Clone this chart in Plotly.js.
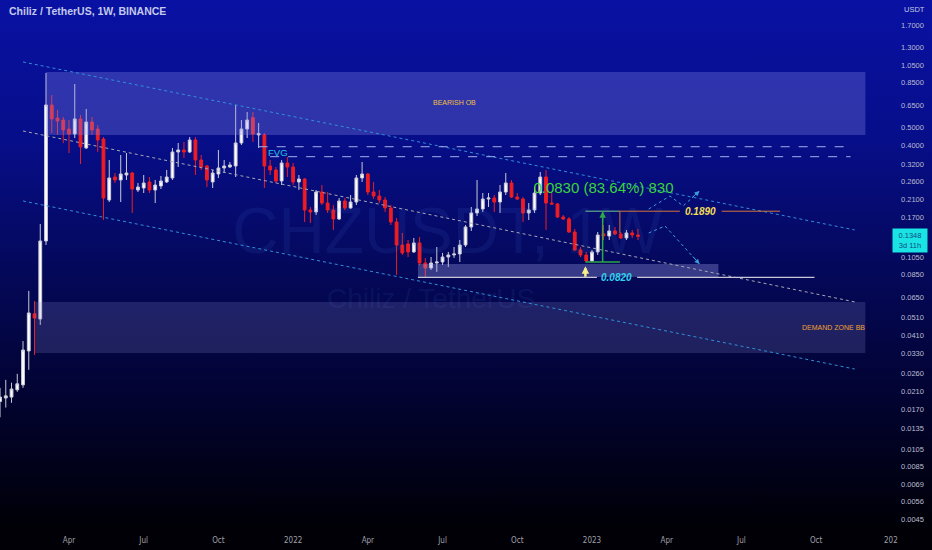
<!DOCTYPE html>
<html><head><meta charset="utf-8">
<script src="https://cdn.plot.ly/plotly-3.0.1.min.js"></script>
<style>
html,body{margin:0;padding:0;background:#000;}
#chart{width:932px;height:550px;background:linear-gradient(180deg,#0911a3 0%,#070e8a 25%,#040858 50%,#020331 72%,#000006 96%);}
</style></head><body><div id="chart"></div>
<script>
// Weekly candles, first week starting 2021-01-11
const firstWeek = '2021-01-11';
const openP = [0.0186,0.0194,0.0196,0.0214,0.0227,0.0341,0.0532,0.0500,0.1275,0.651,
0.557,0.544,0.488,0.460,0.551,0.389,0.531,0.488,0.433,0.2084,
0.2746,0.265,0.2813,0.2882,0.235,0.2407,0.2587,0.235,0.2465,0.2587,
0.2714,0.3707,0.3797,0.3707,0.428,0.3368,0.3134,0.2587,0.2847,0.306,
0.3097,0.3134,0.4129,0.4884,0.56,0.455,0.455,0.3134,0.2987,0.2618,
0.3249,0.3097,0.2587,0.2681,0.1849,0.1805,0.2294,0.201,0.1849,0.166,
0.2059,0.1894,0.2035,0.2714,0.2847,0.2294,0.2187,0.2084,0.1894,0.1601,
0.1215,0.123,0.1118,0.1245,0.0979,0.0922,0.0979,0.0991,0.1052,0.1078,
0.1091,0.1215,0.1508,0.1784,0.1871,0.2109,0.2135,0.2035,0.2294,0.2556,
0.216,0.2109,0.1784,0.1849,0.2267,0.2746,0.201,0.1987,0.17,0.166,
0.142,0.1145,0.1078,0.1003,0.1118,0.139,0.1354,0.1438,0.1387,0.1322,
0.1404,0.137];
const highP = [0.0219,0.0241,0.0233,0.0259,0.0384,0.0701,0.0621,0.1563,0.956,0.734,
0.613,0.564,0.544,0.838,0.578,0.621,0.564,0.512,0.444,0.3368,
0.2882,0.3576,0.3663,0.2916,0.2556,0.2813,0.2746,0.265,0.2779,0.2987,
0.3889,0.4129,0.4179,0.4437,0.4437,0.3576,0.3172,0.2987,0.3797,0.3368,
0.3288,0.6513,0.5441,0.5989,0.5989,0.525,0.4656,0.3368,0.3097,0.3368,
0.3491,0.3249,0.2813,0.2714,0.1916,0.235,0.2495,0.2294,0.1963,0.2135,
0.2135,0.2213,0.2813,0.3288,0.2882,0.2587,0.235,0.216,0.1963,0.168,
0.1404,0.129,0.1322,0.1338,0.104,0.1052,0.1186,0.1105,0.1118,0.1186,
0.129,0.1545,0.1916,0.265,0.2267,0.2267,0.2213,0.2495,0.2882,0.265,
0.2267,0.216,0.201,0.2436,0.2916,0.2987,0.2267,0.201,0.1741,0.17,
0.1473,0.1186,0.1118,0.1145,0.142,0.1545,0.1545,0.1508,0.142,0.1455,
0.1455,0.1473];
const lowP = [0.0154,0.0173,0.0183,0.0209,0.0219,0.0272,0.0325,0.0466,0.1215,0.466,
0.455,0.413,0.366,0.438,0.321,0.384,0.455,0.371,0.164,0.2035,
0.2556,0.2035,0.265,0.1784,0.2294,0.2267,0.2267,0.201,0.2378,0.2556,
0.265,0.3097,0.345,0.3663,0.2813,0.2987,0.2436,0.2407,0.2714,0.2882,
0.306,0.2746,0.4031,0.4384,0.4179,0.389,0.2407,0.2813,0.2556,0.2495,
0.2746,0.2495,0.235,0.1601,0.1582,0.1741,0.1963,0.1784,0.1455,0.164,
0.1849,0.188,0.1963,0.2587,0.2213,0.2109,0.201,0.1805,0.1545,0.0848,
0.1078,0.1052,0.1105,0.0956,0.0828,0.0901,0.088,0.0956,0.0933,0.104,
0.0991,0.1186,0.1438,0.172,0.1805,0.1916,0.1805,0.1784,0.2213,0.2135,
0.2084,0.1601,0.164,0.1784,0.2213,0.1455,0.1963,0.168,0.164,0.1404,
0.1131,0.1052,0.0992,0.0992,0.1078,0.129,0.129,0.137,0.1306,0.129,
0.1322,0.129];
const closeP = [0.0196,0.0199,0.0216,0.0230,0.0345,0.0538,0.0506,0.1275,0.6513,0.551,
0.538,0.483,0.460,0.551,0.394,0.531,0.483,0.428,0.2135,0.2714,
0.265,0.2847,0.2882,0.2378,0.2436,0.2556,0.235,0.2495,0.2618,0.2746,
0.3707,0.3797,0.3707,0.428,0.3368,0.3097,0.265,0.2882,0.306,0.3134,
0.3172,0.4129,0.4884,0.5441,0.46,0.462,0.3134,0.2987,0.2618,0.3249,
0.3097,0.2587,0.2681,0.1849,0.1805,0.2294,0.201,0.1849,0.166,0.2059,
0.1894,0.2035,0.2714,0.2847,0.2294,0.2187,0.2084,0.1894,0.1601,0.1215,
0.1105,0.1118,0.1245,0.0979,0.0922,0.0979,0.0991,0.1052,0.1078,0.1091,
0.1215,0.1508,0.1784,0.1871,0.2109,0.2135,0.2035,0.2294,0.2556,0.216,
0.2109,0.1784,0.1849,0.2267,0.2746,0.201,0.1987,0.17,0.166,0.142,
0.1145,0.1078,0.1003,0.1118,0.137,0.1354,0.1438,0.1387,0.1322,0.1404,
0.137,0.1348];

// Drawings (date, price)
const channelX = ['2021-02-08','2023-11-18'];
const channelTop = [1.091, 0.1455];
const channelMid = [0.4769, 0.0614];
const channelBot = [0.2059, 0.02745];
const bearishOBX = ['2021-03-08','2023-12-01'];
const bearishOBY = [0.4545, 0.9674];
const demandX = ['2021-02-22','2023-12-01'];
const demandY = [0.03327, 0.0613];
const supportX = ['2022-06-04','2023-06-05'];
const supportY = [0.0828, 0.0967];
const fvgUpperX = ['2021-11-22','2023-11-13'];
const fvgUpper = 0.3948;
const fvgLowerX = ['2021-12-06','2023-11-13'];
const fvgLower = 0.3503;
const rangeLow = 0.0992, rangeHigh = 0.1822;
const rangeX = ['2022-12-25','2023-02-05'];
const rangeMidX = '2023-01-15';
const rangeLabel = '0.0830 (83.64%) 830';
const rangeLabelPos = ['2023-01-16', 0.2380];
const level0820 = 0.0825;
const level0820X = ['2022-06-04','2023-01-08',null,'2023-02-26','2023-09-30'];
const level1890X = ['2023-02-05','2023-04-19',null,'2023-06-09','2023-08-19'];
const level1890Drop = 0.1404;
const projAX = ['2023-03-12','2023-04-07','2023-04-23','2023-05-13'];
const projAY = [0.1871, 0.2187, 0.194, 0.2323];
const projBX = ['2023-03-12','2023-04-01','2023-05-13'];
const projBY = [0.1403, 0.1526, 0.0967];
const lastPrice = 0.1348;

const yTicks = [1.7,1.3,1.05,0.85,0.65,0.5,0.4,0.32,0.26,0.21,0.17,0.105,0.085,0.065,0.051,0.041,0.033,0.026,0.021,0.017,0.0135,0.0105,0.0085,0.0069,0.0056,0.0045];
const xTicks = ['2021-04-05','2021-07-05','2021-10-04','2022-01-03','2022-04-04','2022-07-04','2022-10-03','2023-01-02','2023-04-03','2023-07-03','2023-10-02','2024-01-01'];
const xTickText = ['Apr','Jul','Oct','2022','Apr','Jul','Oct','2023','Apr','Jul','Oct','202'];

const weeks = openP.map((_, i) => new Date(Date.parse(firstWeek + 'T00:00:00Z') + i * 7 * 864e5).toISOString().slice(0, 10));

const L = Math.log10;
const txtFont = 'Liberation Sans, Arial, sans-serif';
function rect(xs, ys, color) {
  return {type:'scatter', mode:'lines', x:[xs[0],xs[1],xs[1],xs[0],xs[0]], y:[ys[0],ys[0],ys[1],ys[1],ys[0]],
    fill:'toself', fillcolor:color, line:{width:0}, hoverinfo:'skip', showlegend:false};
}
function line(xs, ys, color, dash, w) {
  return {type:'scatter', mode:'lines', x:xs, y:ys, line:{color:color, dash:dash||'solid', width:w||1}, hoverinfo:'skip', showlegend:false, connectgaps:false};
}
function label(x, y, txt, size, color) {
  return {type:'scatter', mode:'text', x:[x], y:[y], text:[txt], textposition:'middle center',
    textfont:{size:size, color:color, family:txtFont}, hoverinfo:'skip', showlegend:false};
}

const traces = [
  label('2022-07-10', 0.1340, 'CHZUSDT, 1W', 64, 'rgba(70,120,220,0.11)'),
  label('2022-06-20', 0.0620, 'Chiliz / TetherUS', 28, 'rgba(70,120,220,0.11)'),
  rect(bearishOBX, bearishOBY, 'rgba(140,140,235,0.30)'),
  rect(demandX, demandY, 'rgba(130,130,200,0.22)'),
  rect(supportX, supportY, 'rgba(160,160,230,0.33)'),
  line(channelX, channelTop, '#2f8fd8', 'dot', 1),
  line(channelX, channelMid, '#a8a8b0', 'dot', 1),
  line(channelX, channelBot, '#2f8fd8', 'dot', 1),
  line(fvgUpperX, [fvgUpper, fvgUpper], '#9fb0ee', 'dash', 1),
  line(fvgLowerX, [fvgLower, fvgLower], '#9fb0ee', 'dash', 1),
  line(level0820X, [level0820, level0820, null, level0820, level0820], '#c8c8d8', 'solid', 1.2),
  label(rangeLabelPos[0], rangeLabelPos[1], rangeLabel, 15, '#39d43a'),
  {type:'candlestick', x:weeks, open:openP, high:highP, low:lowP, close:closeP,
   increasing:{line:{color:'#c9c9d6', width:1}, fillcolor:'#ffffff'},
   decreasing:{line:{color:'#ee1d23', width:1}, fillcolor:'#ee1d23'},
   hoverinfo:'skip', showlegend:false},
  line(rangeX, [rangeHigh, rangeHigh], '#4f8a86', 'solid', 1.5),
  line(rangeX, [rangeLow, rangeLow], '#2ea84a', 'solid', 1.5),
  line([rangeMidX, rangeMidX], [rangeLow, rangeHigh], '#2ea84a', 'solid', 1.5),
  line(level1890X, [rangeHigh, rangeHigh, null, rangeHigh, rangeHigh], '#d2743a', 'solid', 1),
  line([level1890X[0], level1890X[0]], [rangeHigh, level1890Drop], '#d2743a', 'solid', 1),
  line(projAX, projAY, '#3a9bdc', 'dot', 1),
  line(projBX, projBY, '#3a9bdc', 'dot', 1)
];

const annotations = [
  {xref:'paper', yref:'paper', x:0.0078, y:0.979, xanchor:'left', yanchor:'middle', showarrow:false,
   text:'Chiliz / TetherUS, 1W, BINANCE', font:{family:txtFont, size:10.5, color:'#c3c9ea', weight:600}},
  {xref:'paper', yref:'paper', x:1.0075, y:0.983, xanchor:'left', yanchor:'middle', showarrow:false,
   text:'USDT', font:{family:txtFont, size:7.5, color:'#c3c9e0'}},
  {x:'2022-07-19', y:-0.1758, showarrow:false, text:'BEARISH OB', font:{family:txtFont, size:7, color:'#f0c040'}},
  {x:'2023-10-23', y:-1.3425, showarrow:false, text:'DEMAND ZONE BB', font:{family:txtFont, size:7, color:'#f0a030'}},
  {x:'2021-12-16', y:-0.4311, showarrow:false, text:'FVG', font:{family:txtFont, size:9.5, color:'#27c4e6'}},
  {x:'2023-05-14', y:L(rangeHigh), showarrow:false, text:'<b><i>0.1890</i></b>', font:{family:txtFont, size:10, color:'#f2dd55'}},
  {x:'2023-02-01', y:L(level0820), showarrow:false, text:'<b><i>0.0820</i></b>', font:{family:txtFont, size:10, color:'#2fd3f0'}},
  {x:rangeMidX, y:L(rangeHigh), ax:0, ay:12, showarrow:true, arrowhead:2, arrowsize:1, arrowwidth:1.3, arrowcolor:'#2ea84a', text:''},
  {x:'2022-12-25', y:L(0.0942), ax:0, ay:12, showarrow:true, arrowhead:2, arrowsize:0.6, arrowwidth:2.5, arrowcolor:'#f7ef8a', text:''},
  {x:projAX[3], y:L(projAY[3]), ax:-9, ay:8, showarrow:true, arrowhead:2, arrowsize:1, arrowwidth:1, arrowcolor:'#3a9bdc', text:''},
  {x:projBX[2], y:L(projBY[2]), ax:-8, ay:-9, showarrow:true, arrowhead:2, arrowsize:1, arrowwidth:1, arrowcolor:'#3a9bdc', text:''},
  {xref:'paper', x:0.9966, y:L(lastPrice), xanchor:'left', yanchor:'middle', yshift:-4, showarrow:false,
   text:lastPrice.toFixed(4) + '<br>3d 11h', align:'center', width:30, bgcolor:'#19e3e3', borderpad:2,
   font:{family:txtFont, size:7.5, color:'#134a86'}}
];

const layout = {
  width:932, height:550,
  margin:{l:0, r:37, t:0, b:20},
  paper_bgcolor:'rgba(0,0,0,0)', plot_bgcolor:'rgba(0,0,0,0)',
  showlegend:false,
  xaxis:{type:'date', range:['2021-01-10 23:00','2024-01-06 02:00'], showgrid:false, zeroline:false,
    rangeslider:{visible:false}, tickmode:'array', tickvals:xTicks, ticktext:xTickText,
    tickfont:{family:'DejaVu Sans Condensed, Liberation Sans Narrow, sans-serif', size:8, color:'#a0a0ac'},
    ticks:'', showline:false, ticklabelstandoff:4, fixedrange:true},
  yaxis:{type:'log', side:'right', range:[-2.3998, 0.3606], showgrid:false, zeroline:false,
    tickmode:'array', tickvals:yTicks, ticktext:yTicks.map(v => v.toFixed(4)),
    tickfont:{family:txtFont, size:7.5, color:'#b9bdd2'}, ticks:'', showline:false, ticklabelstandoff:5, fixedrange:true},
  annotations:annotations,
  hovermode:false
};

Plotly.newPlot('chart', traces, layout, {staticPlot:true, displayModeBar:false});
</script></body></html>
